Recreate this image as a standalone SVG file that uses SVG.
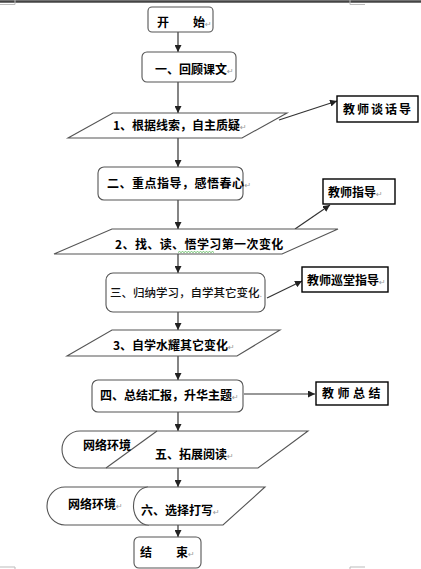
<svg xmlns="http://www.w3.org/2000/svg" width="421" height="569" viewBox="0 0 421 569">
<style>
.n{fill:#fff;stroke:#555;stroke-width:1.1}
.b{fill:#fff;stroke:#000;stroke-width:1.4}
.t{font-family:"Noto Sans CJK SC","Noto Sans",sans-serif;font-size:12px;font-weight:bold;fill:#000}
.thin{font-weight:500;fill:#111;font-size:11.5px}
.pm{font-family:"DejaVu Sans",sans-serif;font-size:8px;font-weight:normal;fill:#999}
.c{stroke:#333;stroke-width:1.2;fill:none}
.cm{stroke:#bbb;stroke-width:1;fill:none}
</style>
<defs>
<marker id="ah" markerUnits="userSpaceOnUse" markerWidth="8" markerHeight="7" refX="7" refY="3.5" orient="auto">
<path d="M0,0 L7,3.5 L0,7 Z" fill="#222"/>
</marker>
</defs>
<rect width="421" height="569" fill="#fff"/>
<line x1="0" y1="1.5" x2="421" y2="1.5" stroke="#444" stroke-width="2.5"/>
<path class="cm" d="M0,4.5 H15 V0 M365,4.5 H350 V0 M0,567 H15 V569 M365,567 H350 V569"/>

<g id="connectors">
<line class="c" x1="178" y1="32" x2="178" y2="52" marker-end="url(#ah)"/>
<line class="c" x1="178" y1="82" x2="178" y2="113" marker-end="url(#ah)"/>
<line class="c" x1="178" y1="138" x2="178" y2="167" marker-end="url(#ah)"/>
<line class="c" x1="178" y1="200" x2="178" y2="229" marker-end="url(#ah)"/>
<line class="c" x1="178" y1="254" x2="178" y2="273" marker-end="url(#ah)"/>
<line class="c" x1="178" y1="312" x2="178" y2="330" marker-end="url(#ah)"/>
<line class="c" x1="178" y1="356" x2="178" y2="380" marker-end="url(#ah)"/>
<line class="c" x1="178" y1="412" x2="178" y2="431" marker-end="url(#ah)"/>
<line class="c" x1="178" y1="468" x2="178" y2="487" marker-end="url(#ah)"/>
<line class="c" x1="178" y1="525" x2="178" y2="537" marker-end="url(#ah)"/>
<line class="c" x1="279" y1="120" x2="337" y2="101" marker-end="url(#ah)"/>
<line class="c" x1="295" y1="229" x2="330" y2="205" marker-end="url(#ah)"/>
<line class="c" x1="267" y1="298" x2="302" y2="281" marker-end="url(#ah)"/>
<line class="c" x1="244" y1="394" x2="315" y2="394" marker-end="url(#ah)"/>
</g>

<g id="start">
<rect class="n" x="148" y="7" width="65" height="25" rx="4"/>
<text class="t" x="157" y="27">开　　始<tspan class="pm">↵</tspan></text>
</g>
<g id="step1">
<rect class="n" x="142" y="52" width="94" height="30" rx="5"/>
<text class="t" x="155" y="74">一、回顾课文<tspan class="pm">↵</tspan></text>
</g>
<g id="p1">
<polygon class="n" points="113,113 287,113 242,138 68,138"/>
<text class="t" x="113" y="130">1、根据线索，自主质疑<tspan class="pm">↵</tspan></text>
</g>
<g id="talk">
<rect class="b" x="337" y="96" width="81" height="26"/>
<text class="t" x="343" y="114" letter-spacing="2">教师谈话导</text>
</g>
<g id="step2">
<rect class="n" x="98" y="167" width="145" height="33" rx="6"/>
<text class="t" x="107" y="188" letter-spacing="0.5">二、重点指导，感悟春心<tspan class="pm">↵</tspan></text>
</g>
<g id="p2">
<polygon class="n" points="112,229 338,229 282,254 54,254"/>
<text class="t" x="115" y="249" letter-spacing="0.4">2、找、读、悟学习第一次变化</text>
<path d="M178,252.5 l1.5,-1 l1.5,1 l1.5,-1 l1.5,1 l1.5,-1 l1.5,1 l1.5,-1 l1.5,1 l1.5,-1 l1.5,1 l1.5,-1 l1.5,1 l1.5,-1 l1.5,1 l1.5,-1 l1.5,1 l1.5,-1 l1.5,1 l1.5,-1 l1.5,1 l1.5,-1 l1.5,1 l1.5,-1 l1.5,1" stroke="#3a3" stroke-width="0.7" fill="none"/>
</g>
<g id="guide">
<rect class="b" x="323" y="179" width="72" height="25"/>
<text class="t" x="328" y="197">教师指导<tspan class="pm">↵</tspan></text>
</g>
<g id="step3">
<rect class="n" x="106" y="273" width="159" height="39" rx="7"/>
<text class="t thin" x="110" y="297">三、归纳学习，自学其它变化<tspan class="pm">.</tspan></text>
</g>
<g id="patrol">
<rect class="b" x="302" y="267" width="86" height="25"/>
<text class="t" x="307" y="285">教师巡堂指导<tspan class="pm">↵</tspan></text>
</g>
<g id="p3">
<polygon class="n" points="112,330 280,330 237,356 67,356"/>
<text class="t" x="113" y="350">3、自学水耀其它变化<tspan class="pm">↵</tspan></text>
</g>
<g id="step4">
<rect class="n" x="92" y="380" width="151" height="32" rx="6"/>
<text class="t" x="100" y="400">四、总结汇报，升华主题<tspan class="pm">↵</tspan></text>
</g>
<g id="summary">
<rect class="b" x="316" y="382" width="72" height="23"/>
<text class="t" x="322" y="398" letter-spacing="3.5">教师总结</text>
</g>
<g id="step5">
<path class="n" d="M80,431 H308 L258,468 H80 A18,18.5 0 0 1 80,431 Z"/>
<line class="n" x1="157" y1="431" x2="106" y2="468"/>
<text class="t" x="83" y="450">网络环境</text>
<text class="t" x="155" y="459">五、拓展阅读<tspan class="pm">↵</tspan></text>
</g>
<g id="step6">
<path class="n" d="M65,487 H265 L223,525 H65 A18,19 0 0 1 65,487 Z"/>
<path class="n" d="M148,487 A15,19 0 0 0 149,525" fill="none"/>
<text class="t" x="68" y="509">网络环境<tspan class="pm">↵</tspan></text>
<text class="t" x="141" y="515">六、选择打写<tspan class="pm">↵</tspan></text>
</g>
<g id="end">
<rect class="n" x="134" y="537" width="67" height="31" rx="5"/>
<text class="t" x="140" y="557">结　　束<tspan class="pm">↵</tspan></text>
</g>
</svg>
